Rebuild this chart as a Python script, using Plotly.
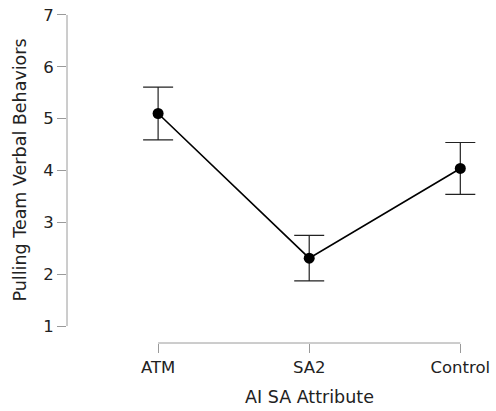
import plotly.graph_objects as go

# Descriptives: mean and half-width of the interval per condition
conditions = ["ATM", "SA2", "Control"]
means = [5.10, 2.31, 4.04]
errors = [0.51, 0.44, 0.50]

y_ticks = [1, 2, 3, 4, 5, 6, 7]

tick_font = dict(family="DejaVu Sans", size=16.5, color="#222222")
title_font = dict(family="DejaVu Sans", size=17.5, color="#222222")
axis_color = "#9a9a9a"

fig = go.Figure()
fig.add_trace(go.Scatter(
    x=[0, 1, 2],
    y=means,
    mode="lines+markers",
    line=dict(color="black", width=1.6),
    marker=dict(color="black", size=11),
    error_y=dict(type="data", array=errors, visible=True,
                 color="#222222", thickness=1.2, width=15),
    showlegend=False,
))

# Offset axis lines spanning only the data range
fig.add_shape(type="line", xref="x domain", yref="y",
              x0=0, x1=0, y0=1, y1=7,
              line=dict(color=axis_color, width=1))
fig.add_shape(type="line", xref="x", yref="y domain",
              x0=0, x1=2, y0=0, y1=0,
              line=dict(color=axis_color, width=1))

# Axis titles centred on the drawn axis spans
fig.add_annotation(text="AI SA Attribute", xref="x", x=1,
                   yref="paper", y=0, yshift=-54,
                   xanchor="center", yanchor="middle",
                   showarrow=False, font=title_font)
fig.add_annotation(text="Pulling Team Verbal Behaviors", xref="paper", x=0,
                   xshift=-47, yref="y", y=4, textangle=-90,
                   xanchor="center", yanchor="middle",
                   showarrow=False, font=title_font)

fig.update_layout(
    width=496, height=411,
    margin=dict(l=67, r=6, t=10, b=68),
    paper_bgcolor="white", plot_bgcolor="white",
    font=tick_font,
    xaxis=dict(
        range=[-0.603, 2.17],
        tickmode="array", tickvals=[0, 1, 2], ticktext=conditions,
        ticks="outside", ticklen=9, tickcolor=axis_color, tickwidth=1,
        tickfont=tick_font,
        showline=False, showgrid=False, zeroline=False,
    ),
    yaxis=dict(
        range=[0.673, 7.077],
        tickmode="array", tickvals=y_ticks,
        ticks="outside", ticklen=9, tickcolor=axis_color, tickwidth=1,
        tickfont=tick_font,
        showline=False, showgrid=False, zeroline=False,
    ),
)

fig.write_html("out.html")
